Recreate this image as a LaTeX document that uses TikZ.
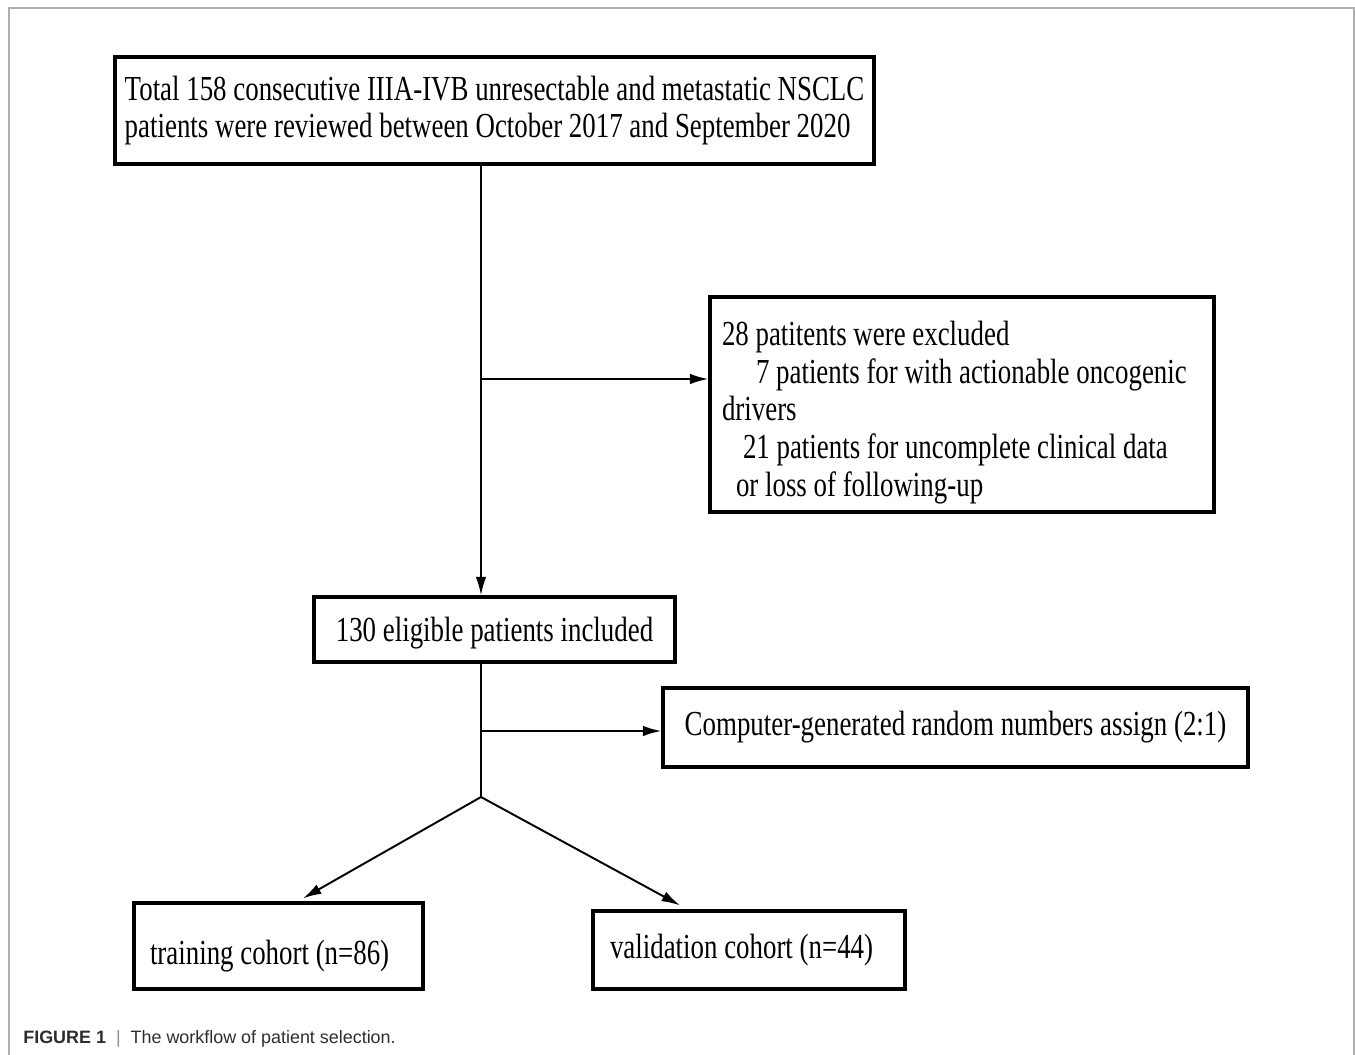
\documentclass[tikz,border=0pt]{standalone}
\usepackage{fontspec}
\setmainfont{Liberation Serif}[FakeStretch=0.765]
\newfontfamily\captionfont{Liberation Sans}
\usetikzlibrary{arrows.meta}
\definecolor{framegray}{RGB}{175,175,175}
\definecolor{captiongray}{RGB}{45,45,45}
\definecolor{bargray}{RGB}{140,140,140}
\tikzset{
    flowbox/.style={draw=black, line width=1.9pt, inner sep=0pt, align=center,
        font=\fontsize{20}{21.5}\selectfont},
    leftbox/.style={flowbox, align=left},
    flowline/.style={line width=1.1pt},
    flowarrow/.style={flowline, -{Latex[length=10.5pt,width=6pt]}},
}
% plain word spacing inside boxes with a text width
\newcommand{\plainspaces}{\spaceskip=0pt\xspaceskip=0pt\hyphenpenalty=10000\relax}

\begin{document}
\begin{tikzpicture}
            \useasboundingbox (0,0) rectangle (27.10,-21.10);
            % Outer frame
            \draw[color=framegray, line width=0.6pt] (0.18,-21.10) -- (0.18,-0.16) -- (27.08,-0.16) -- (27.08,-21.10);
            % Boxes
            \node[leftbox, minimum width=15.18cm, minimum height=2.14cm] (total) at ( 9.89, -2.21)
                {Total 158 consecutive IIIA-IVB unresectable and metastatic NSCLC\\
                 patients were reviewed between October 2017 and September 2020};
            \node[leftbox, minimum width=10.08cm, minimum height=4.30cm, text width=9.60cm, inner xsep=0.24cm] (excluded) at (19.24, -8.09)
                {\plainspaces\rule{0pt}{23pt}28 patitents were excluded\\
                 \hspace*{0.68cm}7 patients for with actionable oncogenic\\
                 drivers\\
                 \hspace*{0.42cm}21 patients for uncomplete clinical data\\
                 \hspace*{0.28cm}or loss of following-up};
            \node[flowbox, minimum width= 7.22cm, minimum height=1.30cm] (eligible) at ( 9.89,-12.59)
                {\raisebox{-2pt}[\height][\depth]{130 eligible patients included}};
            \node[flowbox, minimum width=11.70cm, minimum height=1.58cm] (random) at (19.11,-14.55)
                {Computer-generated random numbers assign (2:1)};
            \node[leftbox, minimum width= 5.78cm, minimum height=1.72cm, text width=5.14cm, inner xsep=0.32cm] (training) at ( 5.57,-18.92)
                {\plainspaces\raisebox{-6pt}[\height][\depth]{training cohort (n=86)}};
            \node[leftbox, minimum width= 6.24cm, minimum height=1.56cm, text width=5.56cm, inner xsep=0.34cm] (validation) at (14.98,-19.00)
                {\plainspaces validation cohort (n=44)};
            % Trunk points
            \coordinate (split1) at (9.62, -7.58);
            \coordinate (split2) at (9.62,-14.62);
            \coordinate (fork)   at (9.62,-15.94);
            % Connectors
            \draw[flowarrow] (total.south -| split1) -- (eligible.north -| split1);
            \draw[flowarrow] (split1) -- (split1 -| excluded.west);
            \draw[flowline]  (eligible.south -| fork) -- (fork);
            \draw[flowarrow] (split2) -- (split2 -| random.west);
            \draw[flowarrow] (fork) -- ([xshift=0.49cm, yshift=0.06cm]training.north);
            \draw[flowarrow] (fork) -- ([xshift=-1.38cm, yshift=0.08cm]validation.north);
            % Caption
            \node[anchor=base west, inner sep=0pt, font=\captionfont\fontsize{10.2}{12}\selectfont, text=captiongray] (caption) at (0.46,-20.86)
                {\textbf{FIGURE 1}\hspace{0.2cm}{\color{bargray}|}\hspace{0.2cm}The workflow of patient selection.};
\end{tikzpicture}
\end{document}
